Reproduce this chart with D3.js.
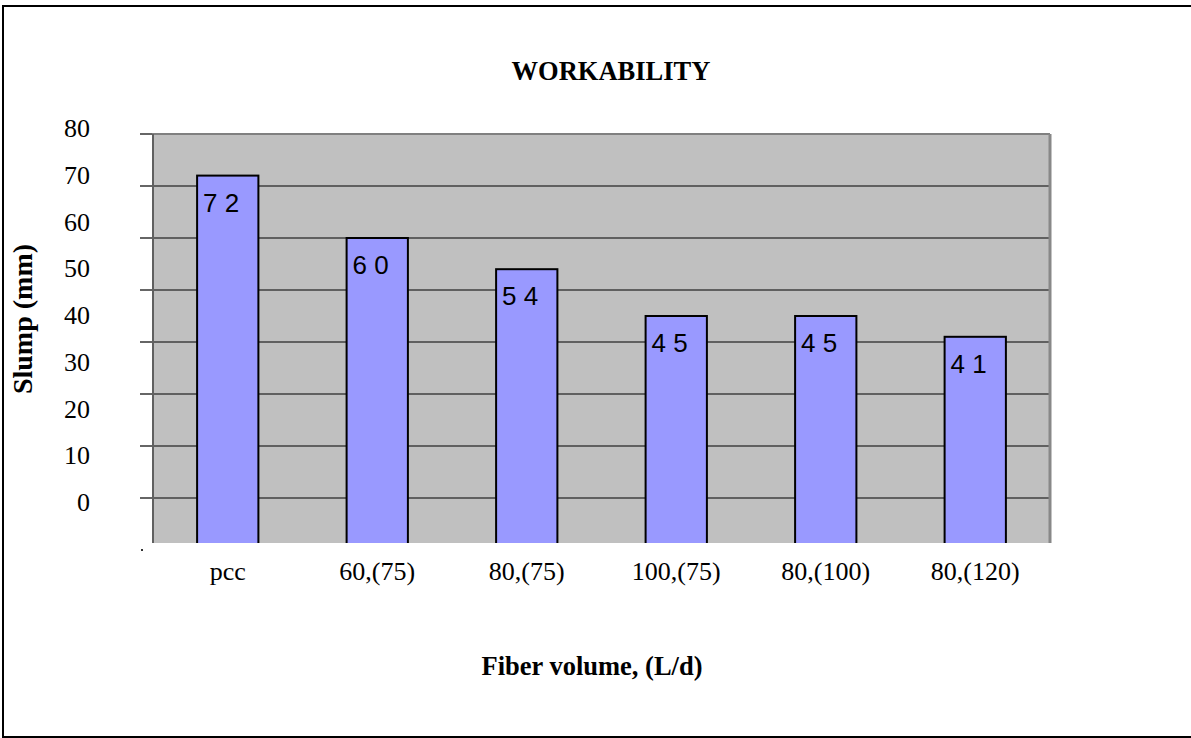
<!DOCTYPE html>
<html>
<head>
<meta charset="utf-8">
<script src="https://cdn.jsdelivr.net/npm/d3@7"></script>
<style>
  body { margin: 0; background: #fff; }
  text { font-family: "Liberation Serif", "Times New Roman", serif; }
</style>
</head>
<body>
<div id="chart"></div>
<script>
// data
const categories = ["pcc", "60,(75)", "80,(75)", "100,(75)", "80,(100)", "80,(120)"];
const slump = [72, 60, 54, 45, 45, 41];
const yTicks = [0, 10, 20, 30, 40, 50, 60, 70, 80];

const width = 1191, height = 738;
const plot = {left: 153, right: 1050, top: 134, bottom: 543};

let svg = d3.select("#chart").append("svg")
    .attr("width", width)
    .attr("height", height)

// outer frame
svg.append("rect")
    .attr("x", 3).attr("y", 6)
    .attr("width", width).attr("height", 731)
    .attr("fill", "none")
    .attr("stroke", "#000")
    .attr("stroke-width", 2)

let xScale = d3.scaleBand()
    .domain(categories)
    .range([plot.left, plot.right])
    .paddingInner(0.59)
    .paddingOuter(0.295)

let yScale = d3.scaleLinear()
    .domain([0, 80])
    .range([550, plot.top])

// the tick labels in the original sit on their own (slightly squeezed) spacing
let yLabelScale = d3.scaleLinear()
    .domain([0, 80])
    .range([511, 137])

svg.append("defs").append("clipPath").attr("id", "plotClip")
    .append("rect")
    .attr("x", plot.left).attr("y", plot.top)
    .attr("width", plot.right - plot.left)
    .attr("height", plot.bottom - plot.top)

// plot background
svg.append("rect")
    .attr("x", plot.left).attr("y", plot.top)
    .attr("width", plot.right - plot.left)
    .attr("height", plot.bottom - plot.top)
    .attr("fill", "#c0c0c0")

// gridlines + tick stubs
let grid = svg.append("g").attr("clip-path", "url(#plotClip)")
grid.selectAll("line")
    .data(yTicks.filter(d => d > 0 && d < 80))
    .enter().append("line")
    .attr("x1", plot.left).attr("x2", plot.right)
    .attr("y1", d => yScale(d)).attr("y2", d => yScale(d))
    .attr("stroke", "#000")
    .attr("stroke-width", 1.2)

svg.append("g").selectAll("line")
    .data(yTicks.filter(d => d > 0))
    .enter().append("line")
    .attr("x1", 140).attr("x2", plot.left)
    .attr("y1", d => yScale(d)).attr("y2", d => yScale(d))
    .attr("stroke", "#000")
    .attr("stroke-width", 1.2)

// small dot at the zero tick (original artifact)
svg.append("rect")
    .attr("x", 141).attr("y", yScale(0) - 1)
    .attr("width", 2).attr("height", 2)
    .attr("fill", "#333")

// border lines of plot area
svg.append("line")
    .attr("x1", plot.left - 1).attr("x2", plot.right)
    .attr("y1", plot.top).attr("y2", plot.top)
    .attr("stroke", "#808080").attr("stroke-width", 2)
svg.append("line")
    .attr("x1", plot.left).attr("x2", plot.left)
    .attr("y1", plot.top).attr("y2", plot.bottom)
    .attr("stroke", "#606060").attr("stroke-width", 2)
svg.append("line")
    .attr("x1", plot.right).attr("x2", plot.right)
    .attr("y1", plot.top).attr("y2", plot.bottom)
    .attr("stroke", "#888").attr("stroke-width", 3)

// bars
let bars = svg.append("g").attr("clip-path", "url(#plotClip)")
bars.selectAll("rect")
    .data(slump)
    .enter().append("rect")
    .attr("x", (d, i) => xScale(categories[i]))
    .attr("y", d => yScale(d))
    .attr("width", xScale.bandwidth())
    .attr("height", d => yScale(0) - yScale(d) + 4)
    .attr("fill", "#9999ff")
    .attr("stroke", "#000")
    .attr("stroke-width", 2)

// data labels, spaced digits like the original
svg.append("g").selectAll("text")
    .data(slump)
    .enter().append("text")
    .attr("x", (d, i) => xScale(categories[i]) + 6)
    .attr("y", d => yScale(d) + 36)
    .attr("style", "font-family:'Liberation Sans',Arial,sans-serif;font-size:26px")
    .attr("fill", "#000")
    .text(d => String(d).split("").join(" "))

// y tick labels
svg.append("g").selectAll("text")
    .data(yTicks)
    .enter().append("text")
    .attr("x", 90)
    .attr("y", d => yLabelScale(d))
    .attr("text-anchor", "end")
    .attr("style", "font-size:26px")
    .text(d => d)

// x category labels
svg.append("g").selectAll("text")
    .data(categories)
    .enter().append("text")
    .attr("x", d => xScale(d) + xScale.bandwidth() / 2)
    .attr("y", 580)
    .attr("text-anchor", "middle")
    .attr("style", "font-size:26px")
    .text(d => d)

// titles
svg.append("text")
    .attr("x", 611).attr("y", 80)
    .attr("text-anchor", "middle")
    .attr("style", "font-size:26.5px;font-weight:bold")
    .text("WORKABILITY")

svg.append("text")
    .attr("x", 592).attr("y", 675)
    .attr("text-anchor", "middle")
    .attr("style", "font-size:26.5px;font-weight:bold")
    .text("Fiber volume, (L/d)")

svg.append("text")
    .attr("transform", "translate(32, 319) rotate(-90)")
    .attr("text-anchor", "middle")
    .attr("style", "font-size:28px;font-weight:bold")
    .text("Slump (mm)")
</script>
</body>
</html>
